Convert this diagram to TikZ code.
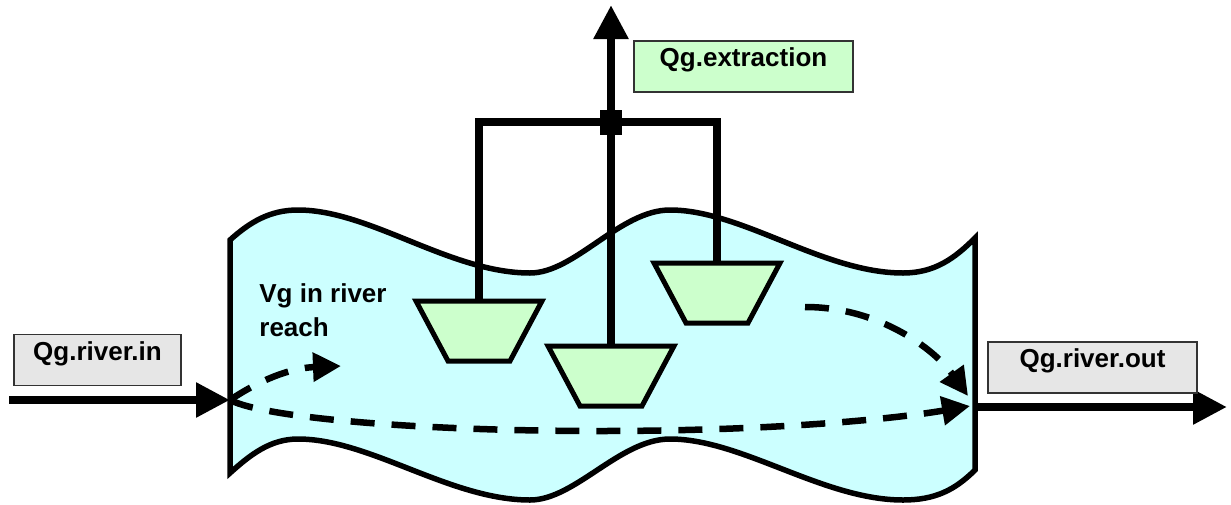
\documentclass[tikz,border=0pt]{standalone}
\usepackage{fontspec}
\setmainfont{Liberation Sans}
\usetikzlibrary{arrows.meta}
\definecolor{water}{HTML}{CCFFFF}
\definecolor{pump}{HTML}{CCFFCC}
\definecolor{lbl}{HTML}{E6E6E6}
\begin{document}
\begin{tikzpicture}[x=0.5pt,y=-0.5pt,
  bigarrow/.style={line width=4.25pt,-{Triangle[length=17pt,width=16.5pt]}},
  flowline/.style={line width=3.25pt,dash pattern=on 12pt off 8.5pt,-{Triangle[length=14pt,width=14pt]}},
  pipe/.style={line width=4pt},
  pumpshape/.style={draw,fill=pump,line width=2.5pt,line join=miter},
  labelbox/.style={draw=black!80,line width=0.75pt,minimum height=25.5pt,inner sep=0pt,text height=9pt,text depth=9pt,font=\fontsize{13}{15}\selectfont\bfseries}
]
\useasboundingbox (0,0) rectangle (1231,504);
% river reach
\draw[line width=2.75pt,fill=water,line join=miter]
  (230,240) .. controls (250,222) and (270,210) .. (298,210)
  .. controls (370,210) and (450,273) .. (530,273)
  .. controls (575,273) and (620,210) .. (670,210)
  .. controls (742,210) and (823,273) .. (903,273)
  .. controls (935,273) and (955,258) .. (975,238)
  -- (975,470)
  .. controls (955,490) and (935,500) .. (903,500)
  .. controls (823,500) and (742,439) .. (670,439)
  .. controls (620,439) and (575,500) .. (530,500)
  .. controls (450,500) and (370,439) .. (298,439)
  .. controls (270,439) and (250,455) .. (230,473) -- cycle;
% coordinates
\coordinate (inS) at (9,400);
\coordinate (inE) at (230,400);
\coordinate (outS) at (975,407);
\coordinate (outE) at (1227,407);
\coordinate (f1e) at (341,366);
\coordinate (f2e) at (970,406);
\coordinate (f3s) at (805,307);
\coordinate (f3e) at (968,396);
\coordinate (exout) at (611,5);
\coordinate (p1) at (479,301);
\coordinate (p2) at (611,346);
\coordinate (p3) at (717,263);
% flows
\draw[bigarrow] (inS) -- (inE);
\draw[bigarrow] (outS) -- (outE);
\draw[flowline] (inE) .. controls (260,380) and (290,368) .. (f1e);
\draw[flowline] (inE) .. controls (265,418) and (420,431) .. (600,431) .. controls (780,431) and (900,418) .. (f2e);
\draw[flowline] (f3s) .. controls (880,307) and (935,350) .. (f3e);
% pipes
\node[fill=black,minimum width=11pt,minimum height=12.5pt,inner sep=0pt] (jn) at (611,122) {};
\draw[pipe] (p1) |- (jn.center) -| (p3);
\draw[bigarrow] (p2) -- (exout);
\node[fill=black,minimum width=11pt,minimum height=12.5pt,inner sep=0pt] at (jn) {};
% pumps
\path[pumpshape] ([xshift=-31.5pt]p1) -- ([xshift=31.5pt]p1) -- ([xshift=15.5pt,yshift=-30pt]p1) -- ([xshift=-15.5pt,yshift=-30pt]p1) -- cycle;
\path[pumpshape] ([xshift=-31.5pt]p2) -- ([xshift=31.5pt]p2) -- ([xshift=15.5pt,yshift=-30pt]p2) -- ([xshift=-15.5pt,yshift=-30pt]p2) -- cycle;
\path[pumpshape] ([xshift=-31.5pt]p3) -- ([xshift=31.5pt]p3) -- ([xshift=15.5pt,yshift=-30pt]p3) -- ([xshift=-15.5pt,yshift=-30pt]p3) -- cycle;
% labels
\node[labelbox,fill=lbl,minimum width=83.5pt] (rin) at (97.5,360) {Qg.river.in};
\node[labelbox,fill=lbl,minimum width=104.5pt] (rout) at (1092.5,367.5) {Qg.river.out};
\node[labelbox,fill=pump,minimum width=109.5pt] (ext) at (743.5,66.5) {Qg.extraction};
\node[anchor=north west,inner sep=0pt,align=left,font=\fontsize{13}{17}\selectfont\bfseries] (vg) at (259,283) {Vg in river\\reach};
\end{tikzpicture}
\end{document}
